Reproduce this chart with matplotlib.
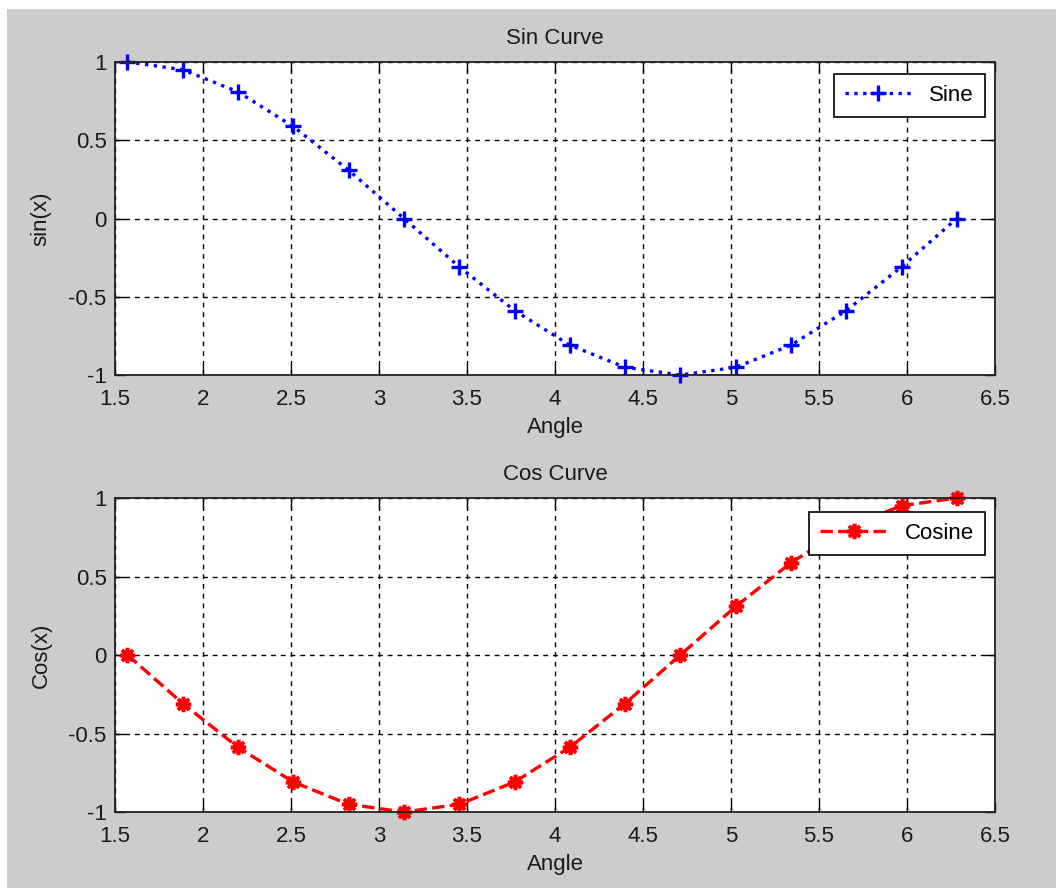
import matplotlib
matplotlib.use('Agg')
import matplotlib.pyplot as plt
from matplotlib.patches import Rectangle

plt.rcParams['font.family'] = ['Liberation Sans', 'DejaVu Sans']

# data (16 points from pi/2 to 2*pi)
angle = [1.571, 1.885, 2.199, 2.513, 2.827, 3.142, 3.456, 3.770,
         4.084, 4.398, 4.712, 5.027, 5.341, 5.655, 5.969, 6.283]
sin_vals = [1.0, 0.951, 0.809, 0.588, 0.309, 0.0, -0.309, -0.588,
            -0.809, -0.951, -1.0, -0.951, -0.809, -0.588, -0.309, 0.0]
cos_vals = [0.0, -0.309, -0.588, -0.809, -0.951, -1.0, -0.951, -0.809,
            -0.588, -0.309, 0.0, 0.309, 0.588, 0.809, 0.951, 1.0]
xticks = [1.5, 2, 2.5, 3, 3.5, 4, 4.5, 5, 5.5, 6, 6.5]
xtick_labels = ['1.5', '2', '2.5', '3', '3.5', '4', '4.5', '5', '5.5', '6', '6.5']
yticks = [-1, -0.5, 0, 0.5, 1]
ytick_labels = ['-1', '-0.5', '0', '0.5', '1']

W, H = 1056, 888
fig = plt.figure(figsize=(W / 100, H / 100), dpi=100, facecolor='white')
# gray matlab-like figure area
fig.patches.append(Rectangle((7 / W, 0), 1, 1 - 9 / H, transform=fig.transFigure,
                             facecolor='#cccccc', edgecolor='none', zorder=-10))

txt = '#1a1a1a'
fs = 16


def setup(ax, title, ylabel):
    ax.set_xlim(1.5, 6.5)
    ax.set_ylim(-1, 1)
    ax.set_xticks(xticks)
    ax.set_xticklabels(xtick_labels)
    ax.set_yticks(yticks)
    ax.set_yticklabels(ytick_labels)
    ax.tick_params(direction='in', length=7, width=1, top=True, right=True,
                   labelsize=fs, labelcolor=txt)
    ax.tick_params(axis='x', pad=10)
    ax.tick_params(axis='y', pad=6)
    ax.grid(True, color='black', linestyle=(0, (3.5, 3.5)), linewidth=1)
    for s in ax.spines.values():
        s.set_linewidth(1.3)
        s.set_color('#222222')
    ax.set_title(title, fontsize=fs, color=txt, pad=13)
    ax.set_xlabel('Angle', fontsize=fs, color=txt, labelpad=5)
    ax.set_ylabel(ylabel, fontsize=fs, color=txt, labelpad=12)
    ax.set_facecolor('white')


ax1 = fig.add_axes([115 / W, 1 - 375 / H, 880 / W, 313 / H])
ax1.plot(angle, sin_vals, color='blue', linestyle=':', linewidth=2.4,
         marker='+', markersize=11, markeredgewidth=2.4, label='Sine', clip_on=False)
setup(ax1, 'Sin Curve', 'sin(x)')
leg1 = ax1.legend(loc='upper right', bbox_to_anchor=(0.9886, 0.962), fontsize=fs,
                  fancybox=False, framealpha=1, edgecolor='black',
                  handlelength=3.0, borderpad=0.5, handletextpad=0.8, borderaxespad=0)
leg1.get_frame().set_linewidth(1.2)

ax2 = fig.add_axes([115 / W, 1 - 812 / H, 880 / W, 314 / H])
ax2.plot(angle, cos_vals, color='red', linestyle='--', linewidth=2.4,
         marker=(8, 2, 0), markersize=11, markeredgewidth=2.6, label='Cosine', clip_on=False)
setup(ax2, 'Cos Curve', 'Cos(x)')
leg2 = ax2.legend(loc='upper right', bbox_to_anchor=(0.9886, 0.955), fontsize=fs,
                  fancybox=False, framealpha=1, edgecolor='black',
                  handlelength=3.0, borderpad=0.5, handletextpad=0.8, borderaxespad=0)
leg2.get_frame().set_linewidth(1.2)

fig.savefig('out.png', dpi=100, facecolor=fig.get_facecolor())
